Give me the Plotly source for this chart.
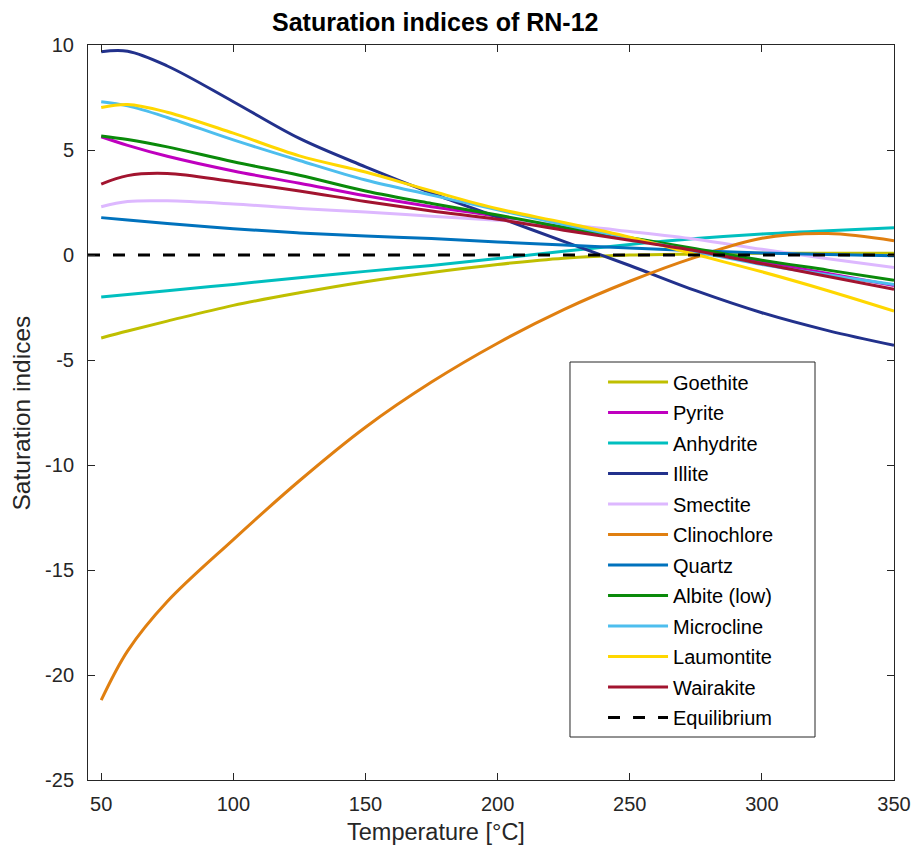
import plotly.graph_objects as go

temperature = [50, 60, 75, 100, 125, 150, 175, 200, 225, 250, 275, 300, 325, 350]

goethite = [-3.95, -3.62, -3.15, -2.4, -1.8, -1.27, -0.83, -0.45, -0.15, 0.0, 0.05, 0.08, 0.08, 0.08]
pyrite = [5.63, 5.22, 4.7, 4.0, 3.42, 2.82, 2.3, 1.85, 1.28, 0.75, 0.22, -0.32, -0.88, -1.45]
anhydrite = [-2.0, -1.88, -1.7, -1.4, -1.08, -0.78, -0.5, -0.17, 0.18, 0.5, 0.78, 1.0, 1.16, 1.3]
illite = [9.68, 9.7, 9.0, 7.3, 5.55, 4.2, 2.95, 1.8, 0.65, -0.5, -1.7, -2.75, -3.6, -4.3]
smectite = [2.3, 2.55, 2.58, 2.43, 2.22, 2.05, 1.85, 1.65, 1.45, 1.12, 0.75, 0.27, -0.18, -0.6]
clinochlore = [-21.2, -18.85, -16.5, -13.55, -10.75, -8.2, -6.05, -4.2, -2.6, -1.25, -0.1, 0.8, 1.02, 0.68]
quartz = [1.78, 1.67, 1.5, 1.25, 1.05, 0.9, 0.78, 0.62, 0.48, 0.33, 0.2, 0.1, 0.02, -0.03]
albite = [5.67, 5.5, 5.15, 4.44, 3.8, 3.05, 2.45, 1.9, 1.32, 0.82, 0.3, -0.25, -0.72, -1.2]
microcline = [7.3, 7.1, 6.55, 5.48, 4.5, 3.57, 2.85, 2.15, 1.45, 0.8, 0.15, -0.45, -0.95, -1.4]
laumontite = [7.02, 7.17, 6.8, 5.8, 4.72, 3.95, 3.05, 2.2, 1.55, 0.85, 0.02, -0.8, -1.7, -2.67]
wairakite = [3.38, 3.78, 3.88, 3.49, 3.05, 2.55, 2.1, 1.7, 1.18, 0.7, 0.2, -0.42, -1.02, -1.63]

eq_temperature = [45, 350]
eq_values = [0, 0]

series_names = ["Goethite", "Pyrite", "Anhydrite", "Illite", "Smectite", "Clinochlore",
                "Quartz", "Albite (low)", "Microcline", "Laumontite", "Wairakite"]
series_values = [goethite, pyrite, anhydrite, illite, smectite, clinochlore,
                 quartz, albite, microcline, laumontite, wairakite]
series_colors = ["#BFBF00", "#BF00BF", "#00BFBF", "#22318C", "#DDB8FF", "#E07F10",
                 "#0072BD", "#0A8A0A", "#4DBEEE", "#FFD700", "#A2142F"]

y_ticks = [-25, -20, -15, -10, -5, 0, 5, 10]
y_ticktext = ["-25", "-20", "-15", "-10", "-5", "0", "5", "10"]
x_ticks = [50, 100, 150, 200, 250, 300, 350]

FONT = "Liberation Sans, Arial, sans-serif"

fig = go.Figure()
for i, (name, vals, col) in enumerate(zip(series_names, series_values, series_colors)):
    fig.add_trace(go.Scatter(
        x=temperature, y=vals, name=name, mode="lines",
        line=dict(color=col, width=3, shape="spline", smoothing=1.0),
        legendgroup=f"g{i}",
    ))
fig.add_trace(go.Scatter(
    x=eq_temperature, y=eq_values, name="Equilibrium", mode="lines",
    line=dict(color="black", width=3, dash="12px,13px"),
    legendgroup="geq",
))

axis_common = dict(
    showline=True, linecolor="#262626", linewidth=1, mirror="ticks",
    ticks="inside", ticklen=7, tickcolor="#262626", showgrid=False, zeroline=False,
    automargin=False,
    tickfont=dict(family=FONT, size=20, color="#262626"),
)

fig.update_layout(
    width=917, height=847,
    margin=dict(l=88, r=23, t=45, b=67, autoexpand=False),
    plot_bgcolor="white", paper_bgcolor="white",
    showlegend=True,
    xaxis=dict(range=[45, 350], tickvals=x_ticks, ticklabelstandoff=6, **axis_common),
    yaxis=dict(range=[-25, 10], tickvals=y_ticks, ticktext=y_ticktext,
               ticklabelstandoff=9, **axis_common),
    legend=dict(
        x=0.639, y=0.568, xanchor="left", yanchor="top",
        borderwidth=0, bgcolor="rgba(0,0,0,0)",
        font=dict(family=FONT, size=20, color="black"),
        tracegroupgap=1.5, itemwidth=60,
    ),
    shapes=[
        dict(type="rect", xref="paper", yref="paper", x0=0.598, x1=0.902, y0=0.0585, y1=0.5687,
             line=dict(color="#262626", width=1), fillcolor="white", layer="above"),
    ],
    annotations=[
        dict(text="<b>Saturation indices of RN-12</b>", xref="paper", yref="paper",
             x=0.431, y=1, yshift=23, xanchor="center", yanchor="middle", showarrow=False,
             font=dict(family=FONT, size=25, color="black")),
        dict(text="Temperature [°C]", xref="paper", yref="paper",
             x=0.432, y=0, yshift=-52, xanchor="center", yanchor="middle", showarrow=False,
             font=dict(family=FONT, size=23.5, color="#262626")),
        dict(text="Saturation indices", xref="paper", yref="paper", textangle=-90,
             x=-0.0819, y=0.5, xanchor="center", yanchor="middle", showarrow=False,
             font=dict(family=FONT, size=24.5, color="#262626")),
    ],
)

fig.write_html("out.html")
